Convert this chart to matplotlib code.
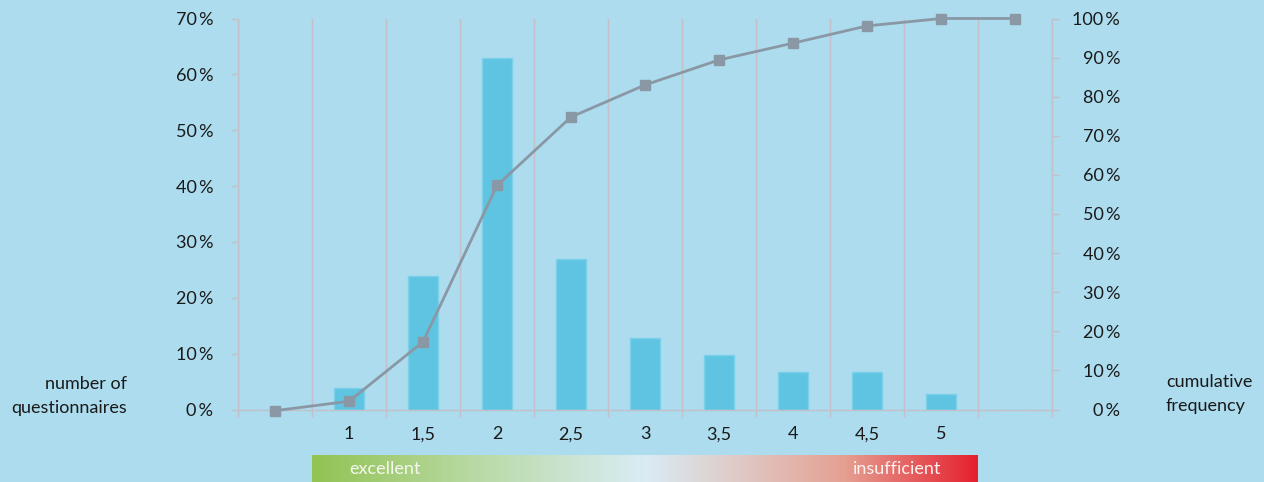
import numpy as np
import matplotlib
matplotlib.use("Agg")
import matplotlib.pyplot as plt
from matplotlib.colors import LinearSegmentedColormap

plt.rcParams['font.family'] = ['Lato', 'DejaVu Sans']

# ---- data ----
categories = ["", "1", "1,5", "2", "2,5", "3", "3,5", "4", "4,5", "5", ""]
share_pct = [0, 3.8, 23.9, 63.0, 26.9, 12.8, 9.8, 6.75, 6.75, 2.8, 0]
cumulative_pct = [-0.3, 2.1, 17.3, 57.3, 74.8, 83.0, 89.4, 93.7, 98.1, 100, 100]
left_ticks = [0, 10, 20, 30, 40, 50, 60, 70]
right_ticks = [0, 10, 20, 30, 40, 50, 60, 70, 80, 90, 100]
left_title = "number of\nquestionnaires"
right_title = "cumulative\nfrequency"
scale_left = "excellent"
scale_right = "insufficient"

BG = "#acdcee"
BAR = "#5fc4e1"
BAR_EDGE = "#7dd0e9"
LINE = "#8a98a5"
GRID = "#c3c0c9"
TXT = "#1a1a1a"
FS = 13

W, H = 1264, 482
fig = plt.figure(figsize=(W / 100, H / 100), dpi=100, facecolor=BG)

ax_l, ax_r, ax_t, ax_b = 238, 1052, 18.5, 409.5
ax = fig.add_axes([ax_l / W, 1 - ax_b / H, (ax_r - ax_l) / W, (ax_b - ax_t) / H])
ax.set_facecolor("none")

x = np.arange(len(categories))
ax.bar(x, share_pct, width=0.4, color=BAR, edgecolor=BAR_EDGE, linewidth=1, zorder=2)
ax.set_xlim(-0.5, len(categories) - 0.5)
ax.set_ylim(0, 70)
ax.set_yticks(left_ticks)
ax.set_yticklabels([f"{v}\u2009%" for v in left_ticks])
ax.set_xticks(x)
ax.set_xticklabels(categories)
ax.set_xticks(np.arange(-0.5, len(categories), 1.0), minor=True)
ax.tick_params(axis='x', which='major', length=0, pad=12, labelsize=FS, colors=TXT)
ax.tick_params(axis='x', which='minor', length=5, width=1, color=GRID)
ax.tick_params(axis='y', length=5, width=1, color=GRID, pad=13, labelsize=FS, labelcolor=TXT)
ax.grid(True, axis='x', which='minor', color=GRID, linewidth=1)
ax.set_axisbelow(True)
for s in ['top', 'right']:
    ax.spines[s].set_visible(False)
for s in ['left', 'bottom']:
    ax.spines[s].set_color(GRID)
    ax.spines[s].set_linewidth(1)

ax2 = ax.twinx()
ax2.plot(x, cumulative_pct, color=LINE, linewidth=2, marker='s', markersize=7,
         markerfacecolor=LINE, markeredgecolor=LINE, zorder=3, clip_on=False)
ax2.set_ylim(0, 100)
ax2.set_yticks(right_ticks)
ax2.set_yticklabels([f"{v}\u2009%" for v in right_ticks])
ax2.tick_params(axis='y', length=5, width=1, color=GRID, pad=44, labelsize=FS, labelcolor=TXT)
for lbl in ax2.get_yticklabels():
    lbl.set_horizontalalignment('right')
for s in ['top', 'left', 'bottom']:
    ax2.spines[s].set_visible(False)
ax2.spines['right'].set_color(GRID)
ax2.spines['right'].set_linewidth(1)

fig.text(127 / W, 1 - 396 / H, left_title, ha='right', va='center', fontsize=FS,
         color=TXT, linespacing=1.6)
fig.text(1166 / W, 1 - 394 / H, right_title, ha='left', va='center', fontsize=FS,
         color=TXT, linespacing=1.6)

# gradient scale bar spanning from category boundary 0.5 to 9.5
xlim = ax.get_xlim()
span = xlim[1] - xlim[0]
gx0 = ax_l + (0.5 - xlim[0]) / span * (ax_r - ax_l)
gx1 = ax_l + (len(categories) - 1.5 - xlim[0]) / span * (ax_r - ax_l)
gax = fig.add_axes([gx0 / W, 0, (gx1 - gx0) / W, 27 / H])
cmap = LinearSegmentedColormap.from_list("scale", [
    (0.0, "#92c353"), (0.25, "#b9daa6"), (0.5, "#d9ecf5"),
    (0.62, "#dfcfcd"), (0.8, "#e5a092"), (1.0, "#e5202f")])
gax.imshow(np.linspace(0, 1, 512)[None, :], aspect='auto', cmap=cmap, extent=[0, 1, 0, 1])
gax.set_axis_off()
gax.text((385 - gx0) / (gx1 - gx0), 0.5, scale_left, ha='center', va='center',
         fontsize=FS, color="#f4f8ee", transform=gax.transAxes)
gax.text((897 - gx0) / (gx1 - gx0), 0.5, scale_right, ha='center', va='center',
         fontsize=FS, color="#fbf2f0", transform=gax.transAxes)

fig.savefig("out.png", dpi=100, facecolor=BG)
